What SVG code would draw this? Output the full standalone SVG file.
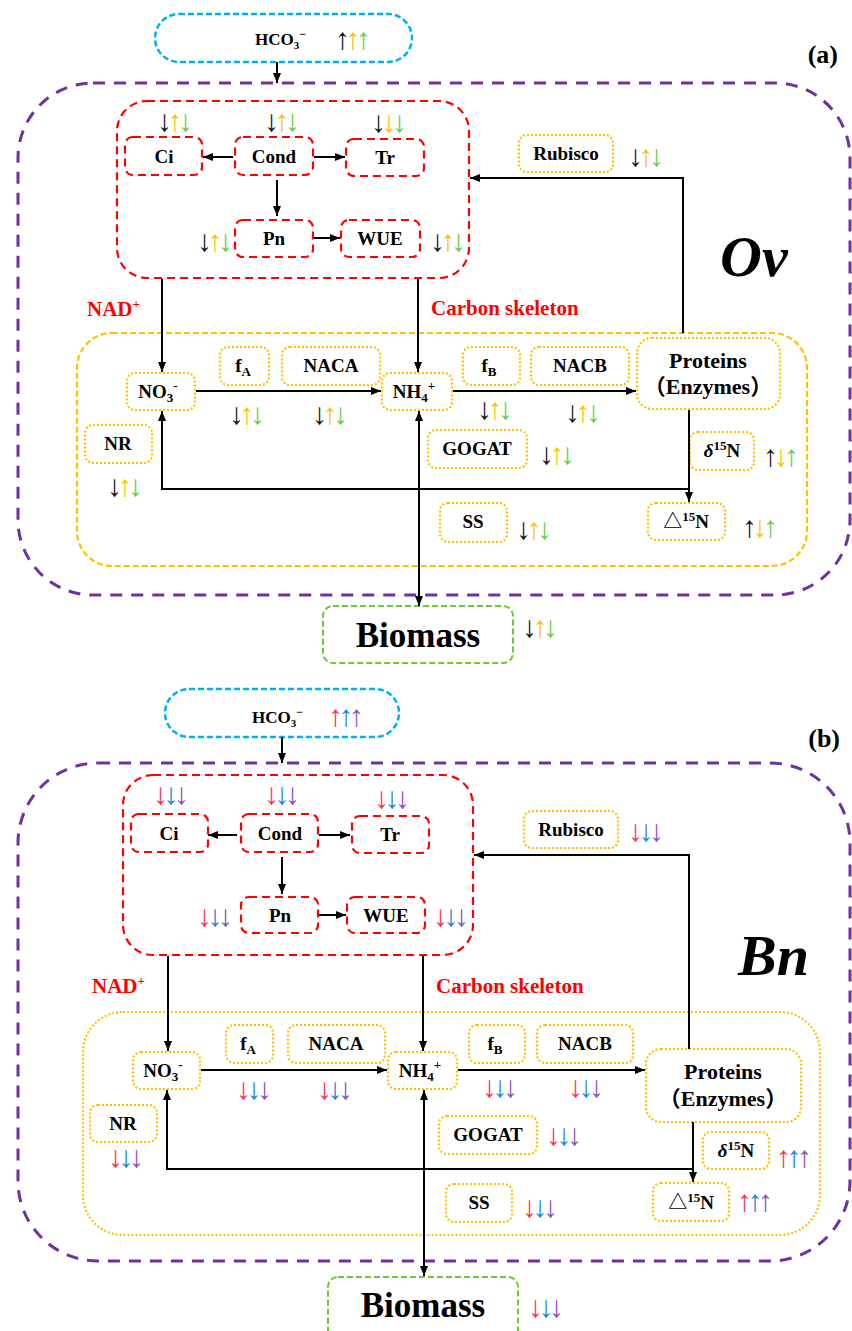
<svg xmlns="http://www.w3.org/2000/svg" width="852" height="1331" viewBox="0 0 852 1331">
<defs>
<marker id="ah" viewBox="0 0 10 8" markerWidth="10" markerHeight="8" refX="10" refY="4" orient="auto-start-reverse" markerUnits="userSpaceOnUse"><path d="M0,0 L10,4 L0,8 z" fill="#000"/></marker>
<style>
.purple{fill:none;stroke:#7030A0;stroke-width:3;stroke-dasharray:12 9}
.red{fill:none;stroke:#FF0000;stroke-width:2.2;stroke-dasharray:8 5}
.cyan{fill:none;stroke:#00B0F0;stroke-width:2.5;stroke-dasharray:6 3}
.green{fill:none;stroke:#66CC33;stroke-width:2;stroke-dasharray:6 3}
.odash{fill:none;stroke:#FFC000;stroke-width:2.2;stroke-dasharray:6 3}
.odot{fill:none;stroke:#FFC000;stroke-width:2.2;stroke-dasharray:2 2}
.conn{fill:none;stroke:#000;stroke-width:2}
.lbl{font-family:"Liberation Serif","Times New Roman",serif;font-weight:bold;font-size:19px;text-anchor:middle;fill:#000}
.big{font-family:"Liberation Serif","Times New Roman",serif;font-weight:bold;font-size:35px;text-anchor:middle;fill:#000}
.sp{font-family:"Liberation Serif","Times New Roman",serif;font-weight:bold;font-style:italic;font-size:58px;fill:#000}
.pl{font-family:"Liberation Serif","Times New Roman",serif;font-weight:bold;font-size:26px;text-anchor:end;fill:#000}
.rt{font-family:"Liberation Serif","Times New Roman",serif;font-weight:bold;font-size:21px;fill:#FF0000}
.ar{font-family:"Liberation Serif","Times New Roman",serif;font-size:30px;letter-spacing:-4.5px}
.k{fill:#111122}.o{fill:#FFC000}.g{fill:#66CC44}
.r{fill:#FF2D55}.b{fill:#1D86D8}.p{fill:#8B4DB8}
</style>
</defs>

<!-- ================= PANEL (a) ================= -->
<g id="a-frame">
<rect class="purple" x="18" y="83" width="832" height="512" rx="75"/>
<rect class="odash" x="77" y="333" width="730" height="233" rx="35"/>
<text class="pl" x="838" y="63">(a)</text>
<text class="sp" x="720" y="276">Ov</text>
<text class="rt" x="87" y="316">NAD<tspan font-size="13" dy="-8">+</tspan></text>
<text class="rt" x="431" y="315">Carbon skeleton</text>
</g>

<g id="a-hco3">
<rect class="cyan" x="155" y="14" width="257" height="48" rx="24"/>
<text class="lbl" style="font-size:17px;text-anchor:start" x="255" y="45">HCO<tspan font-size="11" dy="4">3</tspan><tspan font-size="12" dy="-11">−</tspan></text>
<text class="ar" x="335" y="49"><tspan class="k">↑</tspan><tspan class="o">↑</tspan><tspan class="g">↑</tspan></text>
</g>

<g id="a-leaf">
<rect class="red" x="117" y="101" width="352" height="177" rx="30"/>
</g>
<g id="a-ci"><rect class="red" x="125" y="137" width="77" height="38" rx="8"/><text class="lbl" x="164" y="163">Ci</text>
<text class="ar" x="157" y="131"><tspan class="k">↓</tspan><tspan class="o">↑</tspan><tspan class="g">↓</tspan></text></g>
<g id="a-cond"><rect class="red" x="235" y="137" width="78" height="38" rx="8"/><text class="lbl" x="274" y="163">Cond</text>
<text class="ar" x="264" y="131"><tspan class="k">↓</tspan><tspan class="o">↑</tspan><tspan class="g">↓</tspan></text></g>
<g id="a-tr"><rect class="red" x="346" y="139" width="78" height="37" rx="8"/><text class="lbl" x="385" y="164">Tr</text>
<text class="ar" x="371" y="132"><tspan class="k">↓</tspan><tspan class="o">↓</tspan><tspan class="g">↓</tspan></text></g>
<g id="a-pn"><rect class="red" x="235" y="220" width="78" height="37" rx="8"/><text class="lbl" x="274" y="245">Pn</text>
<text class="ar" x="197" y="251"><tspan class="k">↓</tspan><tspan class="o">↑</tspan><tspan class="g">↓</tspan></text></g>
<g id="a-wue"><rect class="red" x="341" y="220" width="79" height="37" rx="8"/><text class="lbl" x="380" y="245">WUE</text>
<text class="ar" x="430" y="251"><tspan class="k">↓</tspan><tspan class="o">↑</tspan><tspan class="g">↓</tspan></text></g>
<g id="a-rubisco"><rect class="odot" x="519" y="135" width="94" height="37" rx="8"/><text class="lbl" x="566" y="160">Rubisco</text>
<text class="ar" x="628" y="166"><tspan class="k">↓</tspan><tspan class="o">↑</tspan><tspan class="g">↓</tspan></text></g>

<g id="a-no3"><rect class="odot" x="127" y="373" width="68" height="37" rx="8"/><text class="lbl" x="158" y="398">NO<tspan font-size="13" dy="4">3</tspan><tspan font-size="13" dy="-12">-</tspan></text></g>
<g id="a-fa"><rect class="odot" x="220" y="347" width="49" height="38" rx="8"/><text class="lbl" x="243" y="372">f<tspan font-size="13" dy="4">A</tspan></text>
<text class="ar" x="229" y="424"><tspan class="k">↓</tspan><tspan class="o">↑</tspan><tspan class="g">↓</tspan></text></g>
<g id="a-naca"><rect class="odot" x="282" y="347" width="98" height="38" rx="8"/><text class="lbl" x="331" y="372">NACA</text>
<text class="ar" x="312" y="424"><tspan class="k">↓</tspan><tspan class="o">↑</tspan><tspan class="g">↓</tspan></text></g>
<g id="a-nh4"><rect class="odot" x="382" y="373" width="70" height="37" rx="8"/><text class="lbl" x="414" y="398">NH<tspan font-size="13" dy="4">4</tspan><tspan font-size="13" dy="-12">+</tspan></text></g>
<g id="a-fb"><rect class="odot" x="463" y="347" width="57" height="38" rx="8"/><text class="lbl" x="489" y="372">f<tspan font-size="13" dy="4">B</tspan></text>
<text class="ar" x="477" y="419"><tspan class="k">↓</tspan><tspan class="o">↑</tspan><tspan class="g">↓</tspan></text></g>
<g id="a-nacb"><rect class="odot" x="531" y="347" width="98" height="38" rx="8"/><text class="lbl" x="580" y="372">NACB</text>
<text class="ar" x="565" y="422"><tspan class="k">↓</tspan><tspan class="o">↑</tspan><tspan class="g">↓</tspan></text></g>
<g id="a-proteins"><rect class="odot" x="637" y="338" width="143" height="71" rx="15"/>
<text class="lbl" style="font-size:22px" x="708" y="368">Proteins</text>
<text class="lbl" style="font-size:22px;font-family:'Liberation Serif','Noto Sans CJK SC',serif" x="708" y="394">（Enzymes）</text></g>
<g id="a-nr"><rect class="odot" x="85" y="425" width="67" height="38" rx="8"/><text class="lbl" x="118" y="450">NR</text>
<text class="ar" x="107" y="496"><tspan class="k">↓</tspan><tspan class="o">↑</tspan><tspan class="g">↓</tspan></text></g>
<g id="a-gogat"><rect class="odot" x="428" y="430" width="99" height="38" rx="8"/><text class="lbl" x="477" y="455">GOGAT</text>
<text class="ar" x="539" y="464"><tspan class="k">↓</tspan><tspan class="o">↑</tspan><tspan class="g">↓</tspan></text></g>
<g id="a-d15n"><rect class="odot" x="690" y="432" width="64" height="38" rx="8"/><text class="lbl" x="722" y="457"><tspan font-style="italic">δ</tspan><tspan font-size="13" dy="-7">15</tspan><tspan dy="7">N</tspan></text>
<text class="ar" x="763" y="466"><tspan class="k">↑</tspan><tspan class="o">↓</tspan><tspan class="g">↑</tspan></text></g>
<g id="a-ss"><rect class="odot" x="440" y="503" width="67" height="39" rx="8"/><text class="lbl" x="473" y="528">SS</text>
<text class="ar" x="516" y="539"><tspan class="k">↓</tspan><tspan class="o">↑</tspan><tspan class="g">↓</tspan></text></g>
<g id="a-D15n"><rect class="odot" x="648" y="503" width="77" height="37" rx="8"/><text class="lbl" style="font-family:'Liberation Serif','Noto Sans CJK SC',serif" x="686" y="528">△<tspan font-size="13" dy="-7">15</tspan><tspan dy="7">N</tspan></text>
<text class="ar" x="742" y="537"><tspan class="k">↑</tspan><tspan class="o">↓</tspan><tspan class="g">↑</tspan></text></g>
<g id="a-biomass"><rect class="green" x="323" y="606" width="190" height="57" rx="10"/><text class="big" x="418" y="647">Biomass</text>
<text class="ar" x="522" y="637"><tspan class="k">↓</tspan><tspan class="o">↑</tspan><tspan class="g">↓</tspan></text></g>

<g id="a-connectors">
<path class="conn" marker-end="url(#ah)" d="M277,62 L277,83"/>
<path class="conn" marker-end="url(#ah)" d="M233,157 L203,157"/>
<path class="conn" marker-end="url(#ah)" d="M314,157 L345,157"/>
<path class="conn" marker-end="url(#ah)" d="M277,180 L277,216"/>
<path class="conn" marker-end="url(#ah)" d="M314,238 L340,238"/>
<path class="conn" marker-end="url(#ah)" d="M683,333 L683,178 L470,178"/>
<path class="conn" marker-end="url(#ah)" d="M162,279 L162,372"/>
<path class="conn" marker-end="url(#ah)" d="M418,279 L418,372"/>
<path class="conn" marker-end="url(#ah)" d="M196,391 L381,391"/>
<path class="conn" marker-end="url(#ah)" d="M453,391 L636,391"/>
<path class="conn" marker-end="url(#ah)" d="M689,410 L689,502"/>
<path class="conn" marker-end="url(#ah)" d="M689,489 L162,489 L162,411"/>
<path class="conn" marker-start="url(#ah)" marker-end="url(#ah)" d="M419,411 L419,606"/>
</g>

<!-- ================= PANEL (b) ================= -->
<g id="b-frame">
<rect class="purple" x="18" y="763" width="832" height="498" rx="80"/>
<rect class="odot" x="83" y="1012" width="737" height="223" rx="40"/>
<text class="pl" x="840" y="747">(b)</text>
<text class="sp" x="738" y="975">Bn</text>
<text class="rt" x="92" y="993">NAD<tspan font-size="13" dy="-8">+</tspan></text>
<text class="rt" x="436" y="993">Carbon skeleton</text>
</g>

<g id="b-hco3">
<rect class="cyan" x="165" y="689" width="234" height="48" rx="24"/>
<text class="lbl" style="font-size:17px;text-anchor:start" x="252" y="723">HCO<tspan font-size="11" dy="4">3</tspan><tspan font-size="12" dy="-11">−</tspan></text>
<text class="ar" x="328" y="726"><tspan class="r">↑</tspan><tspan class="b">↑</tspan><tspan class="p">↑</tspan></text>
</g>

<g id="b-leaf">
<rect class="red" x="123" y="775" width="350" height="180" rx="30"/>
</g>
<g id="b-ci"><rect class="red" x="131" y="814" width="77" height="38" rx="8"/><text class="lbl" x="169" y="840">Ci</text>
<text class="ar" x="153" y="804"><tspan class="r">↓</tspan><tspan class="b">↓</tspan><tspan class="p">↓</tspan></text></g>
<g id="b-cond"><rect class="red" x="241" y="814" width="77" height="38" rx="8"/><text class="lbl" x="280" y="840">Cond</text>
<text class="ar" x="264" y="804"><tspan class="r">↓</tspan><tspan class="b">↓</tspan><tspan class="p">↓</tspan></text></g>
<g id="b-tr"><rect class="red" x="352" y="816" width="77" height="37" rx="8"/><text class="lbl" x="390" y="841">Tr</text>
<text class="ar" x="374" y="808"><tspan class="r">↓</tspan><tspan class="b">↓</tspan><tspan class="p">↓</tspan></text></g>
<g id="b-pn"><rect class="red" x="241" y="897" width="77" height="36" rx="8"/><text class="lbl" x="280" y="922">Pn</text>
<text class="ar" x="197" y="926"><tspan class="r">↓</tspan><tspan class="b">↓</tspan><tspan class="p">↓</tspan></text></g>
<g id="b-wue"><rect class="red" x="347" y="897" width="78" height="36" rx="8"/><text class="lbl" x="386" y="922">WUE</text>
<text class="ar" x="433" y="926"><tspan class="r">↓</tspan><tspan class="b">↓</tspan><tspan class="p">↓</tspan></text></g>
<g id="b-rubisco"><rect class="odot" x="524" y="811" width="94" height="37" rx="8"/><text class="lbl" x="571" y="836">Rubisco</text>
<text class="ar" x="628" y="841"><tspan class="r">↓</tspan><tspan class="b">↓</tspan><tspan class="p">↓</tspan></text></g>

<g id="b-no3"><rect class="odot" x="133" y="1052" width="67" height="37" rx="8"/><text class="lbl" x="163" y="1077">NO<tspan font-size="13" dy="4">3</tspan><tspan font-size="13" dy="-12">-</tspan></text></g>
<g id="b-fa"><rect class="odot" x="226" y="1025" width="47" height="38" rx="8"/><text class="lbl" x="248" y="1050">f<tspan font-size="13" dy="4">A</tspan></text>
<text class="ar" x="236" y="1099"><tspan class="r">↓</tspan><tspan class="b">↓</tspan><tspan class="p">↓</tspan></text></g>
<g id="b-naca"><rect class="odot" x="288" y="1025" width="97" height="38" rx="8"/><text class="lbl" x="336" y="1050">NACA</text>
<text class="ar" x="317" y="1099"><tspan class="r">↓</tspan><tspan class="b">↓</tspan><tspan class="p">↓</tspan></text></g>
<g id="b-nh4"><rect class="odot" x="388" y="1052" width="69" height="37" rx="8"/><text class="lbl" x="420" y="1077">NH<tspan font-size="13" dy="4">4</tspan><tspan font-size="13" dy="-12">+</tspan></text></g>
<g id="b-fb"><rect class="odot" x="469" y="1025" width="56" height="38" rx="8"/><text class="lbl" x="495" y="1050">f<tspan font-size="13" dy="4">B</tspan></text>
<text class="ar" x="482" y="1097"><tspan class="r">↓</tspan><tspan class="b">↓</tspan><tspan class="p">↓</tspan></text></g>
<g id="b-nacb"><rect class="odot" x="537" y="1025" width="96" height="38" rx="8"/><text class="lbl" x="585" y="1050">NACB</text>
<text class="ar" x="568" y="1097"><tspan class="r">↓</tspan><tspan class="b">↓</tspan><tspan class="p">↓</tspan></text></g>
<g id="b-proteins"><rect class="odot" x="646" y="1049" width="155" height="73" rx="15"/>
<text class="lbl" style="font-size:22px" x="723" y="1079">Proteins</text>
<text class="lbl" style="font-size:22px;font-family:'Liberation Serif','Noto Sans CJK SC',serif" x="723" y="1106">（Enzymes）</text></g>
<g id="b-nr"><rect class="odot" x="90" y="1105" width="67" height="37" rx="8"/><text class="lbl" x="123" y="1130">NR</text>
<text class="ar" x="108" y="1167"><tspan class="r">↓</tspan><tspan class="b">↓</tspan><tspan class="p">↓</tspan></text></g>
<g id="b-gogat"><rect class="odot" x="439" y="1116" width="98" height="38" rx="8"/><text class="lbl" x="488" y="1141">GOGAT</text>
<text class="ar" x="546" y="1145"><tspan class="r">↓</tspan><tspan class="b">↓</tspan><tspan class="p">↓</tspan></text></g>
<g id="b-d15n"><rect class="odot" x="703" y="1132" width="66" height="37" rx="8"/><text class="lbl" x="736" y="1157"><tspan font-style="italic">δ</tspan><tspan font-size="13" dy="-7">15</tspan><tspan dy="7">N</tspan></text>
<text class="ar" x="776" y="1167"><tspan class="r">↑</tspan><tspan class="b">↑</tspan><tspan class="p">↑</tspan></text></g>
<g id="b-ss"><rect class="odot" x="446" y="1184" width="66" height="38" rx="8"/><text class="lbl" x="479" y="1209">SS</text>
<text class="ar" x="522" y="1217"><tspan class="r">↓</tspan><tspan class="b">↓</tspan><tspan class="p">↓</tspan></text></g>
<g id="b-D15n"><rect class="odot" x="653" y="1183" width="76" height="38" rx="8"/><text class="lbl" style="font-family:'Liberation Serif','Noto Sans CJK SC',serif" x="691" y="1209">△<tspan font-size="13" dy="-7">15</tspan><tspan dy="7">N</tspan></text>
<text class="ar" x="737" y="1211"><tspan class="r">↑</tspan><tspan class="b">↑</tspan><tspan class="p">↑</tspan></text></g>
<g id="b-biomass"><rect class="green" x="328" y="1277" width="190" height="70" rx="10"/><text class="big" x="423" y="1317">Biomass</text>
<text class="ar" x="528" y="1317"><tspan class="r">↓</tspan><tspan class="b">↓</tspan><tspan class="p">↓</tspan></text></g>

<g id="b-connectors">
<path class="conn" marker-end="url(#ah)" d="M282,737 L282,763"/>
<path class="conn" marker-end="url(#ah)" d="M237,835 L208,835"/>
<path class="conn" marker-end="url(#ah)" d="M319,835 L350,835"/>
<path class="conn" marker-end="url(#ah)" d="M282,857 L282,894"/>
<path class="conn" marker-end="url(#ah)" d="M319,915 L346,915"/>
<path class="conn" marker-end="url(#ah)" d="M689,1049 L689,855 L474,855"/>
<path class="conn" marker-end="url(#ah)" d="M168,956 L168,1051"/>
<path class="conn" marker-end="url(#ah)" d="M423,956 L423,1051"/>
<path class="conn" marker-end="url(#ah)" d="M201,1070 L387,1070"/>
<path class="conn" marker-end="url(#ah)" d="M458,1070 L645,1070"/>
<path class="conn" marker-end="url(#ah)" d="M693,1122 L693,1182"/>
<path class="conn" marker-end="url(#ah)" d="M693,1169 L167,1169 L167,1090"/>
<path class="conn" marker-start="url(#ah)" marker-end="url(#ah)" d="M424,1090 L424,1276"/>
</g>
</svg>
